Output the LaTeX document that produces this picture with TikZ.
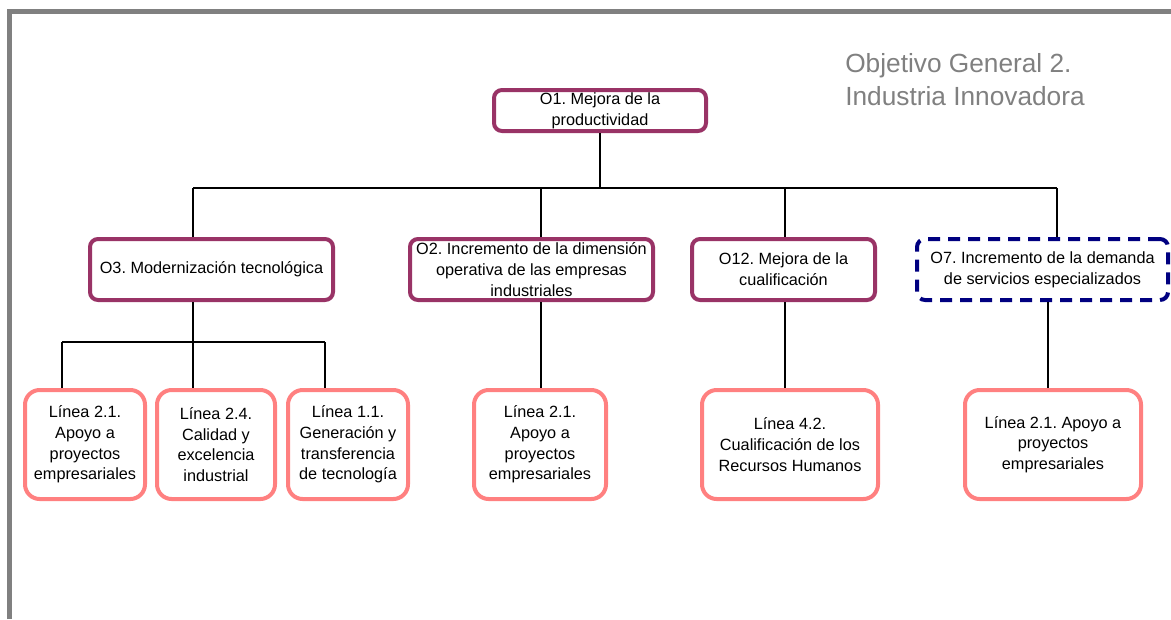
\documentclass[tikz,border=0pt]{standalone}
\usepackage{fontspec}
\setmainfont{Liberation Sans}
\usepackage{tikz}
\frenchspacing

\definecolor{ciruela}{HTML}{993366}
\definecolor{marino}{HTML}{000080}
\definecolor{rosa}{HTML}{FF8080}
\definecolor{marco}{HTML}{808080}

\tikzset{
  obj/.style={draw=ciruela, line width=3pt, rounded corners=6pt, fill=white,
    align=center, inner sep=0pt, minimum height=45.75pt,
    font=\fontsize{12.2pt}{15.5pt}\selectfont},
  objdash/.style={obj, draw=marino, dash pattern=on 9pt off 6pt},
  linea/.style={obj, draw=rosa, rounded corners=11pt, minimum height=81.75pt},
  link/.style={line width=1.4pt},
}

\begin{document}
\begin{tikzpicture}[x=0.75pt,y=-0.75pt]
  \useasboundingbox (0,0) rectangle (1171,619);

  \draw[marco, line width=3.75pt] (9.5,619) -- (9.5,11.5) -- (1171,11.5);

  \node[anchor=north west, inner sep=0pt, align=left, text=marco,
    font=\fontsize{19.7pt}{24.75pt}\selectfont] (titulo) at (845,53)
    {Objetivo General 2.\\Industria Innovadora};

  \node[obj, minimum width=159pt, minimum height=30.75pt] (O1) at (600,110.5)
    {O1. Mejora de la\\productividad};

  \node[obj, minimum width=182.25pt] (O3) at (211.5,269.5) {O3. Modernización tecnológica};
  \node[obj, minimum width=182.25pt] (O2) at (531.5,269.5)
    {O2. Incremento de la dimensión\\operativa de las empresas\\industriales};
  \node[obj, minimum width=137.25pt] (O12) at (783.5,269.5) {O12. Mejora de la\\cualificación};
  \node[objdash, minimum width=188.25pt] (O7) at (1042.5,269.5)
    {O7. Incremento de la demanda\\de servicios especializados};

  \node[linea, minimum width=90pt] (L21a) at (85,444.5)
    {Línea 2.1.\\Apoyo a\\proyectos\\empresariales};
  \node[linea, minimum width=88.5pt] (L24) at (216,444.5)
    {Línea 2.4.\\Calidad y\\excelencia\\industrial};
  \node[linea, minimum width=90pt] (L11) at (348,444.5)
    {Línea 1.1.\\Generación y\\transferencia\\de tecnología};
  \node[linea, minimum width=99pt] (L21b) at (540,444.5)
    {Línea 2.1.\\Apoyo a\\proyectos\\empresariales};
  \node[linea, minimum width=132pt] (L42) at (790,444.5)
    {Línea 4.2.\\Cualificación de los\\Recursos Humanos};
  \node[linea, minimum width=132pt] (L21c) at (1053,444.5)
    {Línea 2.1. Apoyo a\\proyectos\\empresariales};

  \coordinate (busL) at (193,188);
  \coordinate (busR) at (1057,188);
  \coordinate (bus2) at (541,188);
  \coordinate (bus12) at (785,188);
  \coordinate (subL) at (62,342);
  \coordinate (subM) at (193,342);
  \coordinate (subR) at (325,342);
  \coordinate (d2) at (541,360);
  \coordinate (d12) at (785,360);
  \coordinate (d7) at (1048,360);

  \draw[link] (O1.south) -- (O1.south |- busL);
  \draw[link] (busL) -- (busR);
  \draw[link] (busL) -- (busL |- O3.north);
  \draw[link] (bus2) -- (bus2 |- O2.north);
  \draw[link] (bus12) -- (bus12 |- O12.north);
  \draw[link] (busR) -- (busR |- O7.north);

  \draw[link] (subM |- O3.south) -- (subM);
  \draw[link] (subL) -- (subR);
  \draw[link] (subL) -- (subL |- L21a.north);
  \draw[link] (subM) -- (subM |- L24.north);
  \draw[link] (subR) -- (subR |- L11.north);

  \draw[link] (d2 |- O2.south) -- (d2 |- L21b.north);
  \draw[link] (d12 |- O12.south) -- (d12 |- L42.north);
  \draw[link] (d7 |- O7.south) -- (d7 |- L21c.north);
\end{tikzpicture}
\end{document}
